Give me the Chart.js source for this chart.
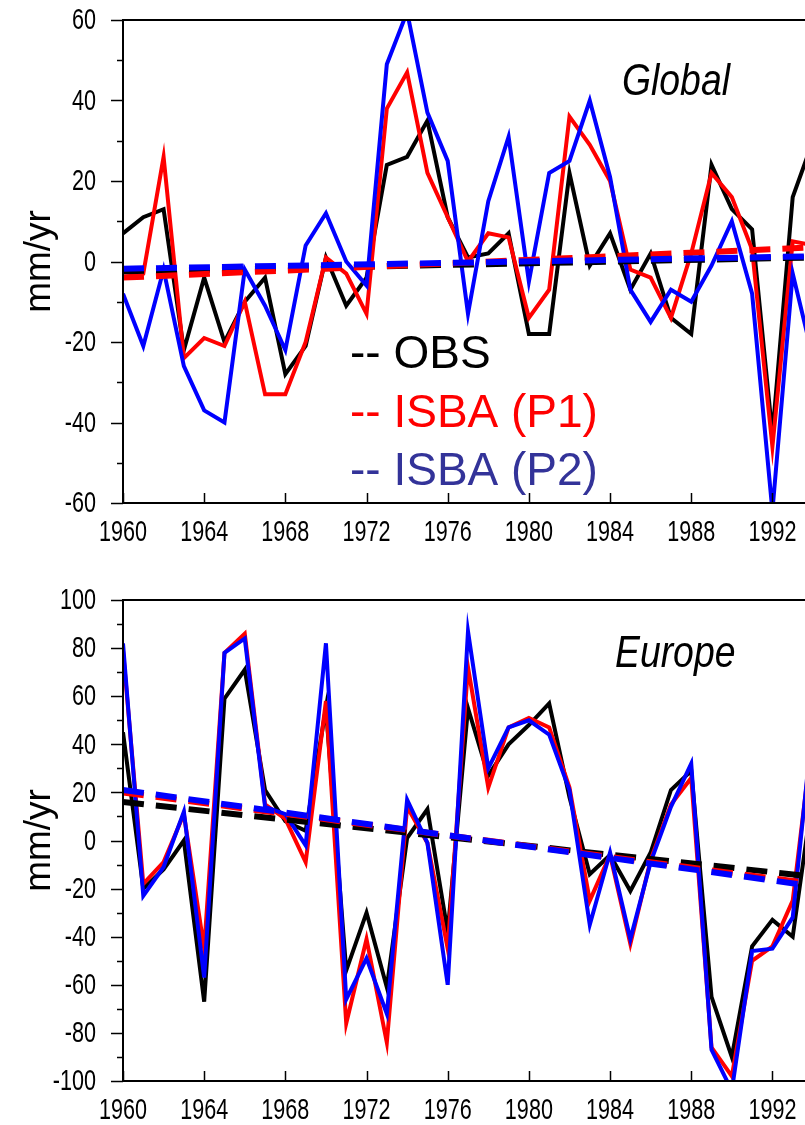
<!DOCTYPE html>
<html>
<head>
<meta charset="utf-8">
<script src="https://cdn.jsdelivr.net/npm/chart.js@4.4.0/dist/chart.umd.min.js"></script>
<style>
  html, body { margin: 0; padding: 0; background: #fff; overflow: hidden; width: 805px; height: 1125px; }
  canvas { position: absolute; left: 0; }
</style>
</head>
<body>
<canvas id="globalChart" width="823" height="560" style="top:0px"></canvas>
<canvas id="europeChart" width="823" height="545" style="top:580px"></canvas>
<script>
// years (the picture is cut on the right around 1993.6)
const years = [1960, 1961, 1962, 1963, 1964, 1965, 1966, 1967, 1968, 1969,
               1970, 1971, 1972, 1973, 1974, 1975, 1976, 1977, 1978, 1979,
               1980, 1981, 1982, 1983, 1984, 1985, 1986, 1987, 1988, 1989,
               1990, 1991, 1992, 1993, 1994];
const trendYears = [1960, 1994];
const xTicks = [1960, 1964, 1968, 1972, 1976, 1980, 1984, 1988, 1992];

// Global anomalies (mm/yr)
const obsGlobal = [7, 11, 13, -22, -4, -20, -10, -4, -28, -21,
                   1, -11, -4, 24, 26, 35, 11, 1, 2, 7,
                   -18, -18, 22, -1, 7, -7, 2, -14, -18, 24,
                   13, 8, -43, 16, 30];
const p1Global = [-4, -3, 26, -24, -19, -21, -10, -33, -33, -20,
                  1, -3, -13, 38, 47, 22, 11, 0, 7, 6,
                  -14, -7, 36, 29, 20, -2, -4, -14, 2, 22,
                  16, 3, -46, 5, 4];
const p2Global = [-8, -21, -2, -26, -37, -40, -2, -11, -22, 4,
                  12, 0, -6, 49, 62, 37, 25, -13, 15, 31,
                  -5, 22, 25, 40, 21, -7, -15, -7, -10, -1,
                  10, -8, -62, -3, -24];
const obsGlobalTrend = [-2.5, 1];
const p1GlobalTrend = [-4, 3.5];
const p2GlobalTrend = [-1.8, 1.3];

// Europe anomalies (mm/yr)
const obsEurope = [45, -20, -12, 0, -67, 59, 71, 21, 8, 4,
                   55, -54, -30, -61, 1, 13, -38, 55, 27, 40,
                   48, 57, 18, -14, -6, -21, -5, 21, 29, -65,
                   -90, -44, -33, -40, 20];
const p1Europe = [79, -18, -9, 11, -45, 78, 86, 15, 9, -9,
                  58, -76, -41, -84, 14, -1, -45, 72, 22, 47,
                  51, 47, 22, -25, -6, -43, -8, 15, 26, -86,
                  -98, -50, -44, -25, 45];
const p2Europe = [82, -23, -11, 12, -57, 78, 84, 14, 11, -2,
                  82, -66, -49, -72, 17, -1, -60, 87, 30, 47,
                  50, 44, 21, -35, -5, -41, -9, 14, 32, -87,
                  -104, -46, -45, -32, 50];
const obsEuropeTrend = [16, -15];
const p1EuropeTrend = [20, -18];
const p2EuropeTrend = [21, -19];

const seriesNames = ['OBS', 'ISBA (P1)', 'ISBA (P2)'];
const lineColors = ['#000000', '#ff0000', '#0000ff'];
const legendColors = ['#000000', '#ff0000', '#333399'];

const plainFont = "'Liberation Sans', Arial, Helvetica, sans-serif";

// text squeezed horizontally (the original uses a narrow Helvetica)
function squeezedText(ctx, text, x, y, sx, align, baseline) {
    ctx.save();
    ctx.translate(x, y);
    ctx.scale(sx, 1);
    ctx.textAlign = align;
    ctx.textBaseline = baseline;
    ctx.fillText(text, 0, 0);
    ctx.restore();
}

// frame, tick marks, tick labels, panel name and the text legend
const framePlugin = {
    id: 'frame',
    afterDraw(chart, args, opts) {
        const ctx = chart.ctx;
        const a = chart.chartArea;
        const x = chart.scales.x;
        const y = chart.scales.y;
        ctx.save();
        ctx.strokeStyle = '#000';
        ctx.lineWidth = 2;
        ctx.strokeRect(a.left, a.top, a.right - a.left, a.bottom - a.top);

        ctx.lineWidth = 1.5;
        ctx.beginPath();
        y.ticks.forEach(t => {
            const py = Math.round(y.getPixelForValue(t.value)) + 0.5;
            const len = t.value % 20 === 0 ? 12 : 6;
            ctx.moveTo(a.left - len, py);
            ctx.lineTo(a.left, py);
        });
        x.ticks.forEach(t => {
            const px = Math.round(x.getPixelForValue(t.value)) + 0.5;
            ctx.moveTo(px, a.bottom);
            ctx.lineTo(px, a.bottom - 10);
        });
        ctx.stroke();

        // tick labels
        ctx.fillStyle = '#000';
        ctx.font = '30px ' + plainFont;
        y.ticks.forEach(t => {
            if (t.value % 20 !== 0) return;
            squeezedText(ctx, String(t.value), a.left - 27, y.getPixelForValue(t.value) + 1, 0.72, 'right', 'middle');
        });
        x.ticks.forEach(t => {
            squeezedText(ctx, String(t.value), x.getPixelForValue(t.value), a.bottom + 38, 0.72, 'center', 'alphabetic');
        });

        ctx.font = 'italic 45px ' + plainFont;
        squeezedText(ctx, opts.name, opts.nameX, opts.nameY, 0.83, 'left', 'alphabetic');

        if (opts.legend) {
            ctx.font = '46px ' + plainFont;
            ctx.textAlign = 'left';
            ctx.textBaseline = 'alphabetic';
            seriesNames.forEach((s, i) => {
                ctx.fillStyle = legendColors[i];
                ctx.fillText('-- ' + s, 350, 368 + i * 58.5);
            });
        }
        ctx.restore();
    }
};

function makeChart(canvasId, obs, p1, p2, trends, yMin, yMax, xAxisHeight, opts) {
    const series = [obs, p1, p2];
    const datasets = [];
    series.forEach((vals, i) => {
        datasets.push({
            label: seriesNames[i],
            data: years.map((yr, k) => ({ x: yr, y: vals[k] })),
            borderColor: lineColors[i],
            borderWidth: 4,
            pointRadius: 0,
            fill: false,
            order: 6 - i
        });
    });
    trends.forEach((vals, i) => {
        datasets.push({
            label: seriesNames[i] + ' trend',
            data: trendYears.map((yr, k) => ({ x: yr, y: vals[k] })),
            borderColor: lineColors[i],
            borderWidth: 6,
            borderDash: [21, 12],
            pointRadius: 0,
            fill: false,
            order: 3 - i
        });
    });

    return new Chart(document.getElementById(canvasId), {
        type: 'line',
        data: { datasets: datasets },
        plugins: [framePlugin],
        options: {
            responsive: false,
            animation: false,
            layout: { padding: { top: 20, right: 10, left: 0, bottom: 0 } },
            plugins: {
                legend: { display: false },
                tooltip: { enabled: false },
                frame: opts
            },
            elements: { line: { tension: 0 } },
            scales: {
                x: {
                    type: 'linear',
                    min: 1960,
                    max: 1994,
                    grid: { display: false, drawTicks: false },
                    border: { display: false },
                    afterBuildTicks: s => { s.ticks = xTicks.map(v => ({ value: v })); },
                    ticks: { display: false },
                    afterFit: s => {
                        s.height = xAxisHeight;
                        s.paddingLeft = 0;
                        s.paddingRight = 0;
                    }
                },
                y: {
                    min: yMin,
                    max: yMax,
                    grid: { display: false, drawTicks: false },
                    border: { display: false },
                    ticks: { display: false, stepSize: 10 },
                    title: {
                        display: true,
                        text: 'mm/yr',
                        color: '#000',
                        font: { family: plainFont, size: 37 },
                        padding: { top: 18, bottom: 0 }
                    },
                    afterFit: s => {
                        s.width = 123;
                        s.paddingTop = 0;
                        s.paddingBottom = 0;
                    }
                }
            }
        }
    });
}

makeChart('globalChart', obsGlobal, p1Global, p2Global,
    [obsGlobalTrend, p1GlobalTrend, p2GlobalTrend], -60, 60, 57,
    { name: 'Global', nameX: 622, nameY: 95, legend: true });

makeChart('europeChart', obsEurope, p1Europe, p2Europe,
    [obsEuropeTrend, p1EuropeTrend, p2EuropeTrend], -100, 100, 44,
    { name: 'Europe', nameX: 615, nameY: 87, legend: false });
</script>
</body>
</html>
